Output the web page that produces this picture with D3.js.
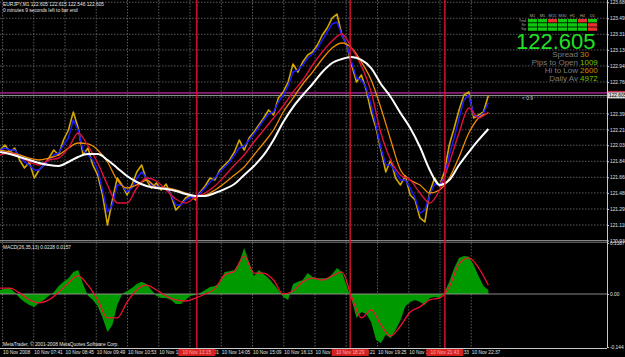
<!DOCTYPE html>
<meta charset="utf-8">
<head>
<script src="https://d3js.org/d3.v7.min.js"></script>
<style>
  body { margin: 0; background: #000; }
  svg { display: block; background: #000; }
  text { font-family: "Liberation Sans", Arial, sans-serif; }
  .tiny { font-size: 4.8px; fill: #e6e6e6; }
  .grid line { stroke: #6e6e6e; stroke-width: 0.8; stroke-dasharray: 1.5,1.5; }
  .axis path, .axis line { stroke: #c8c8c8; }
  .axis text { font-size: 4.8px; fill: #e0e0e0; }
</style>
</head>
<body>
<svg width="625" height="357"></svg>
<script>

// EURJPY M1, 10 Nov 2008 -- samples every 10 minutes from 06:32
var closePrice = [121.975,122.033,121.952,121.998,121.860,121.768,121.837,121.652,121.745,121.802,
  121.883,121.975,121.918,122.091,122.206,122.414,122.229,121.918,121.998,121.802,
  121.687,121.456,121.110,121.398,121.652,121.572,121.456,121.572,121.722,121.802,
  121.629,121.537,121.595,121.514,121.583,121.456,121.283,121.341,121.422,121.456,
  121.398,121.491,121.560,121.652,121.629,121.745,121.802,121.860,121.952,122.091,
  121.975,122.114,122.183,122.264,122.345,122.437,122.379,122.575,122.645,122.760,
  122.968,122.875,122.991,123.071,123.106,123.187,123.302,123.383,123.498,123.544,
  123.302,123.187,122.956,122.760,122.841,122.668,122.414,122.229,121.975,121.722,
  121.860,121.652,121.572,121.675,121.456,121.398,121.191,121.145,121.491,121.652,
  121.560,121.722,122.033,122.229,122.437,122.610,122.645,122.345,122.379,122.414,
  122.605];

var fastMA = [121.975,121.998,121.975,121.975,121.906,121.837,121.802,121.745,121.745,121.802,
  121.860,121.918,121.941,122.033,122.114,122.321,122.206,121.975,121.918,121.860,
  121.745,121.514,121.260,121.341,121.572,121.572,121.491,121.537,121.652,121.722,
  121.652,121.572,121.560,121.537,121.537,121.456,121.341,121.341,121.398,121.433,
  121.433,121.479,121.537,121.606,121.652,121.722,121.779,121.837,121.918,121.998,
  122.022,122.091,122.160,122.241,122.321,122.391,122.414,122.529,122.610,122.714,
  122.875,122.898,122.956,123.037,123.083,123.152,123.244,123.337,123.429,123.452,
  123.302,123.187,122.991,122.806,122.783,122.691,122.495,122.264,121.998,121.802,
  121.802,121.722,121.629,121.629,121.537,121.422,121.248,121.283,121.456,121.583,
  121.572,121.652,121.918,122.114,122.345,122.552,122.610,122.379,122.356,122.402,
  122.518];

// samples every 20 minutes from 06:32
var midMA = [121.918,121.941,121.895,121.837,121.802,121.860,121.883,121.998,122.171,122.022,
  121.825,121.572,121.364,121.364,121.537,121.652,121.618,121.514,121.410,121.364,
  121.433,121.479,121.560,121.675,121.802,121.918,122.068,122.206,122.345,122.483,
  122.645,122.783,122.956,123.106,123.233,123.314,123.152,122.945,122.645,122.171,
  121.860,121.687,121.629,121.479,121.364,121.514,121.825,122.171,122.460,122.345,
  122.414];

var slowMA = [121.975,121.952,121.918,121.883,121.860,121.883,121.918,121.998,122.056,122.045,
  121.975,121.837,121.629,121.537,121.572,121.629,121.548,121.537,121.514,121.479,
  121.445,121.456,121.514,121.595,121.687,121.779,121.918,122.056,122.206,122.414,
  122.575,122.737,122.875,123.025,123.152,123.210,123.152,122.991,122.783,122.460,
  122.091,121.745,121.629,121.572,121.479,121.514,121.652,121.895,122.171,122.345,
  122.402];

var longMA = [121.952,121.929,121.895,121.860,121.825,121.802,121.791,121.837,121.895,121.929,
  121.929,121.860,121.768,121.675,121.606,121.560,121.537,121.525,121.502,121.468,
  121.445,121.445,121.479,121.525,121.583,121.687,121.791,121.918,122.091,122.298,
  122.471,122.610,122.737,122.875,122.979,123.025,123.048,123.014,122.921,122.737,
  122.587,122.402,122.229,122.010,121.745,121.572,121.629,121.802,121.952,122.091,
  122.218];

// MACD(26,35,13): main every 10 minutes, signal every 20 minutes
var macdMain = [0.011,0.014,0.016,0.005,-0.011,-0.022,-0.030,-0.035,-0.024,-0.016,
  -0.005,0.005,0.022,0.033,0.043,0.060,0.065,0.027,-0.005,-0.016,
  -0.033,-0.065,-0.103,-0.084,-0.030,0.000,0.008,0.016,0.027,0.033,
  0.027,0.011,-0.005,-0.011,-0.011,-0.016,-0.027,-0.027,-0.016,-0.005,
  -0.003,0.003,0.011,0.019,0.022,0.030,0.060,0.062,0.065,0.087,
  0.125,0.087,0.049,0.065,0.054,0.043,0.027,0.011,-0.008,-0.016,
  0.027,0.033,0.038,0.057,0.046,0.043,0.043,0.043,0.054,0.071,
  0.060,0.022,-0.016,-0.065,-0.049,-0.054,-0.076,-0.125,-0.133,-0.111,
  -0.120,-0.098,-0.071,-0.033,-0.022,-0.016,-0.022,-0.030,-0.011,-0.008,
  -0.011,0.005,0.033,0.071,0.098,0.103,0.101,0.079,0.049,0.022,
  0.011];

var macdSignal = [0.016,0.016,0.003,-0.016,-0.024,-0.016,0.005,0.030,0.049,0.024,
  -0.016,-0.065,-0.065,-0.022,0.011,0.024,0.011,-0.005,-0.016,-0.019,
  -0.011,0.000,0.014,0.052,0.062,0.103,0.057,0.057,0.038,0.000,
  0.008,0.033,0.043,0.038,0.049,0.060,-0.008,-0.065,-0.043,-0.084,
  -0.114,-0.087,-0.049,-0.035,-0.016,-0.011,0.019,0.082,0.098,0.071,
  0.024];

var priceTicks = [123.680,123.495,123.310,123.130,122.945,122.760,122.585,122.395,122.210,
  122.030,121.845,121.660,121.480,121.295,121.110,120.930];
var macdTicks = [0.1387, 0, -0.144];
var timeTicks = ["06:37","07:41","08:45","09:49","10:53","11:57","13:01","14:05","15:09",
  "16:13","17:17","18:21","19:25","20:29","21:33","22:37"];
var markerTimes = ["13:15","18:29","21:43"];

var bid = 122.605, hLine = 122.635;

var tfNames = ["M1","M5","M15","M30","H1","H4","D1"];
var tfRows = [[1,1,0,1,1,0,1],[1,1,1,1,1,1,0],[1,1,1,1,1,1,0]];
var infoNames = ["Spread","Pips to Open","Hi to Low","Daily Av"];
var infoValues = ["30","1009","2600","4972"];

function at(hm) {
    var p = hm.split(":");
    return new Date(Date.UTC(2008, 10, 10, +p[0], +p[1]));
}

var svg = d3.select("svg"),
    W = 607,
    mainBottom = 240,
    macdTop = 243,
    macdBottom = 346,
    axisY = 348;

var minPerPx = 64 / 31.25,
    d0 = new Date(at("06:37").getTime() - 2.5 * minPerPx * 60000),
    d1 = new Date(d0.getTime() + W * minPerPx * 60000);

var x = d3.scaleTime().domain([d0, d1]).range([0, W]),
    y = d3.scaleLinear().domain([120.937, 123.706]).range([mainBottom, 0]),
    yM = d3.scaleLinear().domain([-0.1413, 0.1386]).range([macdBottom, macdTop]);

var start = at("06:32").getTime();
function times(arr, step) {
    return arr.map(function(d, i) { return new Date(start + i * step * 60000); });
}
var t10 = times(closePrice, 10), t20 = times(midMA, 20);

svg.append("rect").attr("width", 625).attr("height", 357).attr("fill", "#000");

var defs = svg.append("defs");
defs.append("clipPath").attr("id", "clipMain").append("rect")
    .attr("x", 0).attr("y", 0).attr("width", W).attr("height", mainBottom);
defs.append("clipPath").attr("id", "clipMacd").append("rect")
    .attr("x", 0).attr("y", macdTop).attr("width", W).attr("height", macdBottom - macdTop);

// grid
var grid = svg.append("g").attr("class", "grid");
grid.selectAll(".h").data(priceTicks).enter().append("line")
    .attr("x1", 0).attr("x2", W)
    .attr("y1", function(d) { return y(d); })
    .attr("y2", function(d) { return y(d); });
grid.selectAll(".v").data(timeTicks).enter().append("line")
    .attr("x1", function(d) { return x(at(d)); })
    .attr("x2", function(d) { return x(at(d)); })
    .attr("y1", 0).attr("y2", axisY);

// main window
var gMain = svg.append("g").attr("clip-path", "url(#clipMain)");

gMain.append("line").attr("x1", 0).attr("x2", W)
    .attr("y1", y(hLine)).attr("y2", y(hLine))
    .attr("stroke", "#8a1f78").attr("stroke-width", 1.6);
gMain.append("line").attr("x1", 0).attr("x2", W)
    .attr("y1", y(bid)).attr("y2", y(bid))
    .attr("stroke", "#bcbcbc").attr("stroke-width", 0.8);

function drawLine(g, tt, vals, ys, color, w, curve) {
    g.append("path")
        .attr("d", d3.line()
            .x(function(d, i) { return x(tt[i]); })
            .y(function(d) { return ys(d); })
            .curve(curve)(vals))
        .attr("fill", "none")
        .attr("stroke", color)
        .attr("stroke-width", w)
        .attr("stroke-linejoin", "round");
}

drawLine(gMain, t10, closePrice, y, "#d2a800", 1.6, d3.curveLinear);
drawLine(gMain, t10, fastMA, y, "#1a1aff", 1.5, d3.curveLinear);
drawLine(gMain, t20, slowMA, y, "#f08a00", 1.3, d3.curveMonotoneX);
drawLine(gMain, t20, midMA, y, "#e0103c", 1.4, d3.curveMonotoneX);
drawLine(gMain, t20, longMA, y, "#ffffff", 2, d3.curveMonotoneX);

// MACD window
var gMacd = svg.append("g").attr("clip-path", "url(#clipMacd)");
gMacd.append("path")
    .attr("d", d3.area()
        .x(function(d, i) { return x(t10[i]); })
        .y0(yM(0))
        .y1(function(d) { return yM(d); })(macdMain))
    .attr("fill", "#009a00");
gMacd.append("line").attr("x1", 0).attr("x2", W)
    .attr("y1", yM(0)).attr("y2", yM(0))
    .attr("stroke", "#9a9a9a").attr("stroke-width", 0.9);
drawLine(gMacd, t20, macdSignal, yM, "#ee1133", 1.3, d3.curveMonotoneX);

// window separators
svg.append("line").attr("x1", 0).attr("x2", W).attr("y1", 240.5).attr("y2", 240.5)
    .attr("stroke", "#a0a0a0").attr("stroke-width", 0.8);
svg.append("line").attr("x1", 0).attr("x2", W).attr("y1", 242.2).attr("y2", 242.2)
    .attr("stroke", "#a0a0a0").attr("stroke-width", 0.8);

// vertical time markers
svg.selectAll(".marker").data(markerTimes).enter().append("line")
    .attr("x1", function(d) { return x(at(d)); })
    .attr("x2", function(d) { return x(at(d)); })
    .attr("y1", 0).attr("y2", axisY)
    .attr("stroke", "#e0142c").attr("stroke-width", 1.4);

// price axis
var yAxis = svg.append("g").attr("class", "axis")
    .attr("transform", "translate(" + W + ",0)")
    .call(d3.axisRight(y).tickValues(priceTicks.filter(function(d) { return d !== 122.585; }))
        .tickSize(2).tickPadding(1).tickFormat(d3.format(".3f")));
yAxis.select(".domain").attr("d", "M0.5,0V" + axisY);

svg.append("g").attr("class", "axis")
    .attr("transform", "translate(" + W + ",0)")
    .call(d3.axisRight(yM).tickValues(macdTicks).tickSize(2).tickPadding(1)
        .tickFormat(function(d) { return d === 0 ? "0.00" : d; }))
    .select(".domain").remove();

// bid label
svg.append("rect").attr("x", 608).attr("y", y(hLine) - 2).attr("width", 17).attr("height", 2)
    .attr("fill", "#c0304a");
svg.append("rect").attr("x", 608).attr("y", y(bid) - 3).attr("width", 17).attr("height", 6)
    .attr("fill", "#d8d8d8");
svg.append("text").attr("class", "tiny").attr("x", 609).attr("y", y(bid) + 1.8)
    .style("fill", "#000").text(d3.format(".3f")(bid));

// time axis
var xAxis = svg.append("g").attr("class", "axis")
    .attr("transform", "translate(0," + axisY + ")")
    .call(d3.axisBottom(x).tickValues(timeTicks.map(at)).tickSize(0).tickPadding(3)
        .tickFormat(function(d, i) {
            return i === 0 ? "10 Nov 2008" : "10 Nov " + d3.utcFormat("%H:%M")(d);
        }));
xAxis.selectAll("text").attr("text-anchor", "start").attr("dy", "0.6em");
xAxis.select(".domain").attr("d", "M0,0.5H" + W);

var mk = svg.selectAll(".mlabel").data(markerTimes).enter().append("g")
    .attr("transform", function(d) { return "translate(" + x(at(d)) + "," + (axisY + 1) + ")"; });
mk.append("rect").attr("x", -18.5).attr("y", 0).attr("width", 37).attr("height", 7)
    .attr("fill", "#d42020");
mk.append("text").attr("class", "tiny").attr("text-anchor", "middle").attr("y", 5.2)
    .style("fill", "#ffb0b0").text(function(d) { return "10 Nov " + d; });

// labels
svg.append("text").attr("class", "tiny").attr("x", 3).attr("y", 6)
    .text("EURJPY,M1  122.605 122.615 122.546 122.605");
svg.append("text").attr("class", "tiny").attr("x", 3).attr("y", 12)
    .text("0 minutes 9 seconds left to bar end");
svg.append("text").attr("class", "tiny").attr("x", 3).attr("y", 249)
    .text("MACD(26,35,13) 0.0228 0.0157");
svg.append("text").attr("class", "tiny").attr("x", 3).attr("y", 345.5)
    .text("MetaTrader, \u00a9 2001-2008 MetaQuotes Software Corp.");
svg.append("text").attr("class", "tiny").attr("x", 522).attr("y", 100)
    .style("fill", "#c8c8c8").text("<  0:9");

// signal panel
var panel = svg.append("g");
panel.selectAll(".tf").data(tfNames).enter().append("text")
    .attr("class", "tiny").style("font-size", "4px").style("fill", "#a8a8a8")
    .attr("text-anchor", "middle")
    .attr("x", function(d, i) { return 532.5 + i * 10; }).attr("y", 17)
    .text(function(d) { return d; });
panel.selectAll(".rowname").data(["Trnd", "Str", "Sig"]).enter().append("text")
    .attr("class", "tiny").style("font-size", "3.5px").style("fill", "#a8a8a8")
    .attr("text-anchor", "end").attr("x", 526)
    .attr("y", function(d, i) { return 22 + i * 4.2; })
    .text(function(d) { return d; });
tfRows.forEach(function(row, r) {
    panel.selectAll(".c" + r).data(row).enter().append("rect")
        .attr("x", function(d, i) { return 528 + i * 10; })
        .attr("y", 19 + r * 4.2)
        .attr("width", 9).attr("height", 3.4)
        .attr("fill", function(d) { return d ? "#10c810" : "#e83030"; });
});

panel.append("text").attr("x", 516).attr("y", 49)
    .style("font-size", "22px").style("fill", "#22e022")
    .text(d3.format(".3f")(bid));

panel.selectAll(".iname").data(infoNames).enter().append("text")
    .attr("text-anchor", "end").attr("x", 578)
    .attr("y", function(d, i) { return 57 + i * 8; })
    .style("font-size", "8px").style("fill", "#7c7c7c")
    .text(function(d) { return d; });
panel.selectAll(".ival").data(infoValues).enter().append("text")
    .attr("x", 580)
    .attr("y", function(d, i) { return 57 + i * 8; })
    .style("font-size", "8px")
    .style("fill", function(d, i) { return i % 2 ? "#7cc000" : "#d08000"; })
    .text(function(d) { return d; });

</script>
</body>
